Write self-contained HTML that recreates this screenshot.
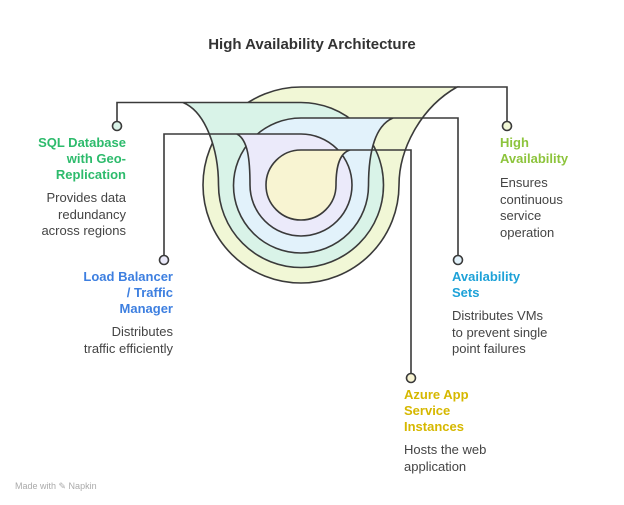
<!DOCTYPE html>
<html><head><meta charset="utf-8"><style>
html,body{margin:0;padding:0;background:#fff;}
body{width:624px;height:505px;position:relative;overflow:hidden;font-family:"Liberation Sans",sans-serif;}
.t{position:absolute;font-size:13px;line-height:16px;font-weight:bold;}
.d{position:absolute;font-size:13px;line-height:16.5px;color:#444;}
.r{text-align:right;}
</style></head><body>
<svg width="624" height="505" style="position:absolute;left:0;top:0">
<g stroke="#3a3a3a" stroke-width="1.6" fill="none">
<path d="M457,87 L301,87 A98,98 0 1 0 399,185 C399,150 420,108 457,87 Z" fill="#f1f7d6"/>
<path d="M183,102.5 L301,102.5 A82.5,82.5 0 1 1 218.5,185 C218.5,150 206,112 183,102.5 Z" fill="#d9f3e8"/>
<path d="M393,118 L301,118 A67.5,67.5 0 1 0 368.5,185.5 C368.5,150 376,125 393,118 Z" fill="#e2f2fb"/>
<path d="M237,134 L301,134 A51,51 0 1 1 250,185 C250,160 248,140 237,134 Z" fill="#ebeafa"/>
<path d="M350,150 L301,150 A35,35 0 1 0 336,185 C336,165 340,153 350,150 Z" fill="#f8f4d2"/>
<path d="M117,121 V102.5 H183"/>
<path d="M507,121 V87 H457"/>
<path d="M164,255 V134 H237"/>
<path d="M458,255 V118 H393"/>
<path d="M411,373 V150 H350"/>
<circle cx="117" cy="126" r="4.5" fill="#d9f3e8"/>
<circle cx="507" cy="126" r="4.5" fill="#f1f7d6"/>
<circle cx="164" cy="260" r="4.5" fill="#ebeafa"/>
<circle cx="458" cy="260" r="4.5" fill="#e2f2fb"/>
<circle cx="411" cy="378" r="4.5" fill="#f8f4d2"/>
</g></svg>
<div class="t" style="left:0;width:624px;top:37px;text-align:center;font-size:15px;color:#333;">High Availability Architecture</div>
<div class="t r" style="right:498px;top:135px;color:#2dbb6c;">SQL Database<br>with Geo-<br>Replication</div>
<div class="d r" style="right:498px;top:190px;">Provides data<br>redundancy<br>across regions</div>
<div class="t" style="left:500px;top:135px;color:#8dc43c;">High<br>Availability</div>
<div class="d" style="left:500px;top:175px;">Ensures<br>continuous<br>service<br>operation</div>
<div class="t r" style="right:451px;top:269px;color:#3d7fe0;">Load Balancer<br>/ Traffic<br>Manager</div>
<div class="d r" style="right:451px;top:324px;">Distributes<br>traffic efficiently</div>
<div class="t" style="left:452px;top:269px;color:#1ea2d8;">Availability<br>Sets</div>
<div class="d" style="left:452px;top:308px;">Distributes VMs<br>to prevent single<br>point failures</div>
<div class="t" style="left:404px;top:387px;color:#d6b800;">Azure App<br>Service<br>Instances</div>
<div class="d" style="left:404px;top:442px;">Hosts the web<br>application</div>
<div style="position:absolute;left:15px;top:481px;font-size:9px;color:#aaa;">Made with ✎ Napkin</div>
</body></html>
